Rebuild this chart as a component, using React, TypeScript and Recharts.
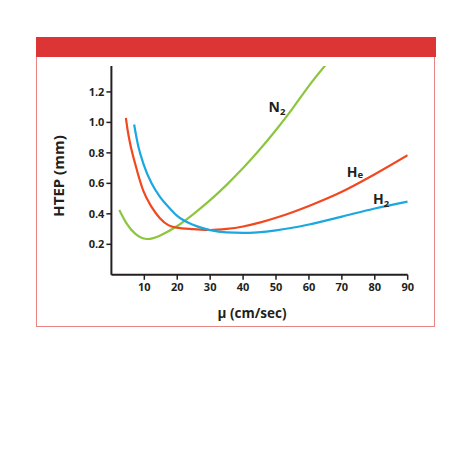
import React from "react";
import { LineChart, Line, XAxis, YAxis, ReferenceDot } from "recharts";

const n2X = [2.4, 4.6, 7.2, 10.7, 15, 20, 25, 30, 35, 40, 45, 50, 55, 60, 65];
const n2Y = [0.425, 0.337, 0.27, 0.235, 0.26, 0.32, 0.4, 0.49, 0.59, 0.7, 0.82, 0.95, 1.09, 1.24, 1.375];

const heX = [4.4, 5, 5.7, 7.2, 9.7, 12.2, 14.8, 17.3, 19.8, 25, 30, 35, 40, 45, 50, 55, 60, 70, 80, 90];
const heY = [1.03, 0.94, 0.86, 0.73, 0.55, 0.446, 0.37, 0.326, 0.31, 0.3, 0.294, 0.301, 0.317, 0.342, 0.374, 0.411, 0.452, 0.545, 0.66, 0.785];

const h2X = [6.9, 8.2, 9.7, 12.2, 14.8, 17.3, 19.8, 25, 30, 35, 40, 50, 60, 70, 80, 90];
const h2Y = [0.986, 0.84, 0.73, 0.6, 0.51, 0.446, 0.39, 0.326, 0.293, 0.278, 0.275, 0.292, 0.33, 0.382, 0.435, 0.48];

const xTicks = [10, 20, 30, 40, 50, 60, 70, 80, 90];
const yTicks = [0.2, 0.4, 0.6, 0.8, 1.0, 1.2];

const seriesLabels = [
  { main: "N", sub: "2", dy: 3, x: 50.3, y: 1.1 },
  { main: "H", sub: "e", dy: 1, x: 74, y: 0.675 },
  { main: "H", sub: "2", dy: 3, x: 81.9, y: 0.5 },
];

const toPts = (xs: number[], ys: number[]) => xs.map((x, i) => ({ x, y: ys[i] }));
const n2Data = toPts(n2X, n2Y);
const heData = toPts(heX, heY);
const h2Data = toPts(h2X, h2Y);

const FONT = "'Open Sans', 'DejaVu Sans', sans-serif";
const INK = "#231f20";

const SubLabel = (props: any) => {
  const { viewBox, main, sub, subDy } = props;
  const cx = viewBox.x + (viewBox.width || 0) / 2;
  const cy = viewBox.y + (viewBox.height || 0) / 2;
  return (
    <text x={cx} y={cy + 5} textAnchor="middle" fontFamily={FONT} fontWeight={700} fontSize={14} fill={INK}>
      {main}
      <tspan fontSize={9.5} dy={subDy}>{sub}</tspan>
    </text>
  );
};

export default function App() {
  return (
    <div style={{ position: "absolute", left: 0, top: 0, width: 470, height: 470 }}>
      <div style={{ position: "absolute", left: 36, top: 37, width: 400, height: 20, background: "#dd3535" }} />
      <div
        style={{
          position: "absolute",
          left: 36,
          top: 57,
          width: 397,
          height: 269,
          borderLeft: "1.5px solid #ea8585",
          borderRight: "1.5px solid #ea8585",
          borderBottom: "1.5px solid #ea8585",
        }}
      />
      <div style={{ position: "absolute", left: 0, top: 0 }}>
        <LineChart width={470} height={340} margin={{ top: 66, right: 62.3, bottom: 35.2, left: 71.4 }}>
          <XAxis
            type="number"
            dataKey="x"
            domain={[0, 90]}
            ticks={xTicks}
            allowDataOverflow
            height={30}
            axisLine={{ stroke: INK, strokeWidth: 2 }}
            tickLine={{ stroke: INK, strokeWidth: 1.5 }}
            tickSize={5}
            tickMargin={3}
            tick={{ fill: INK, fontSize: 11, fontWeight: 700, fontFamily: FONT }}
          />
          <YAxis
            type="number"
            domain={[0, 1.37]}
            ticks={yTicks}
            allowDataOverflow
            width={40}
            axisLine={{ stroke: INK, strokeWidth: 2 }}
            tickLine={{ stroke: INK, strokeWidth: 1.5 }}
            tickSize={5}
            tickMargin={2}
            tickFormatter={(v: number) => v.toFixed(1)}
            tick={{ fill: INK, fontSize: 11, fontWeight: 700, fontFamily: FONT }}
          />
          <Line data={n2Data} dataKey="y" type="natural" stroke="#8cc63f" strokeWidth={2.2} dot={false} isAnimationActive={false} />
          <Line data={heData} dataKey="y" type="monotone" stroke="#f2481f" strokeWidth={2.2} dot={false} isAnimationActive={false} />
          <Line data={h2Data} dataKey="y" type="monotone" stroke="#1ba7e0" strokeWidth={2.2} dot={false} isAnimationActive={false} />
          {seriesLabels.map((l, i) => (
            <ReferenceDot
              key={i}
              x={l.x}
              y={l.y}
              r={0}
              fill="none"
              stroke="none"
              label={<SubLabel main={l.main} sub={l.sub} subDy={l.dy} />}
            />
          ))}
        </LineChart>
      </div>
      <div
        style={{
          position: "absolute",
          left: 58 - 60,
          top: 176 - 10,
          width: 120,
          height: 20,
          transform: "rotate(-90deg)",
          transformOrigin: "60px 10px",
          textAlign: "center",
          lineHeight: "20px",
          fontFamily: FONT,
          fontWeight: 700,
          fontSize: 15,
          color: INK,
        }}
      >
        HTEP (mm)
      </div>
      <div
        style={{
          position: "absolute",
          left: 252 - 80,
          top: 313 - 10,
          width: 160,
          height: 20,
          textAlign: "center",
          lineHeight: "20px",
          fontFamily: FONT,
          fontWeight: 700,
          fontSize: 13.5,
          color: INK,
        }}
      >
        μ (cm/sec)
      </div>
    </div>
  );
}
